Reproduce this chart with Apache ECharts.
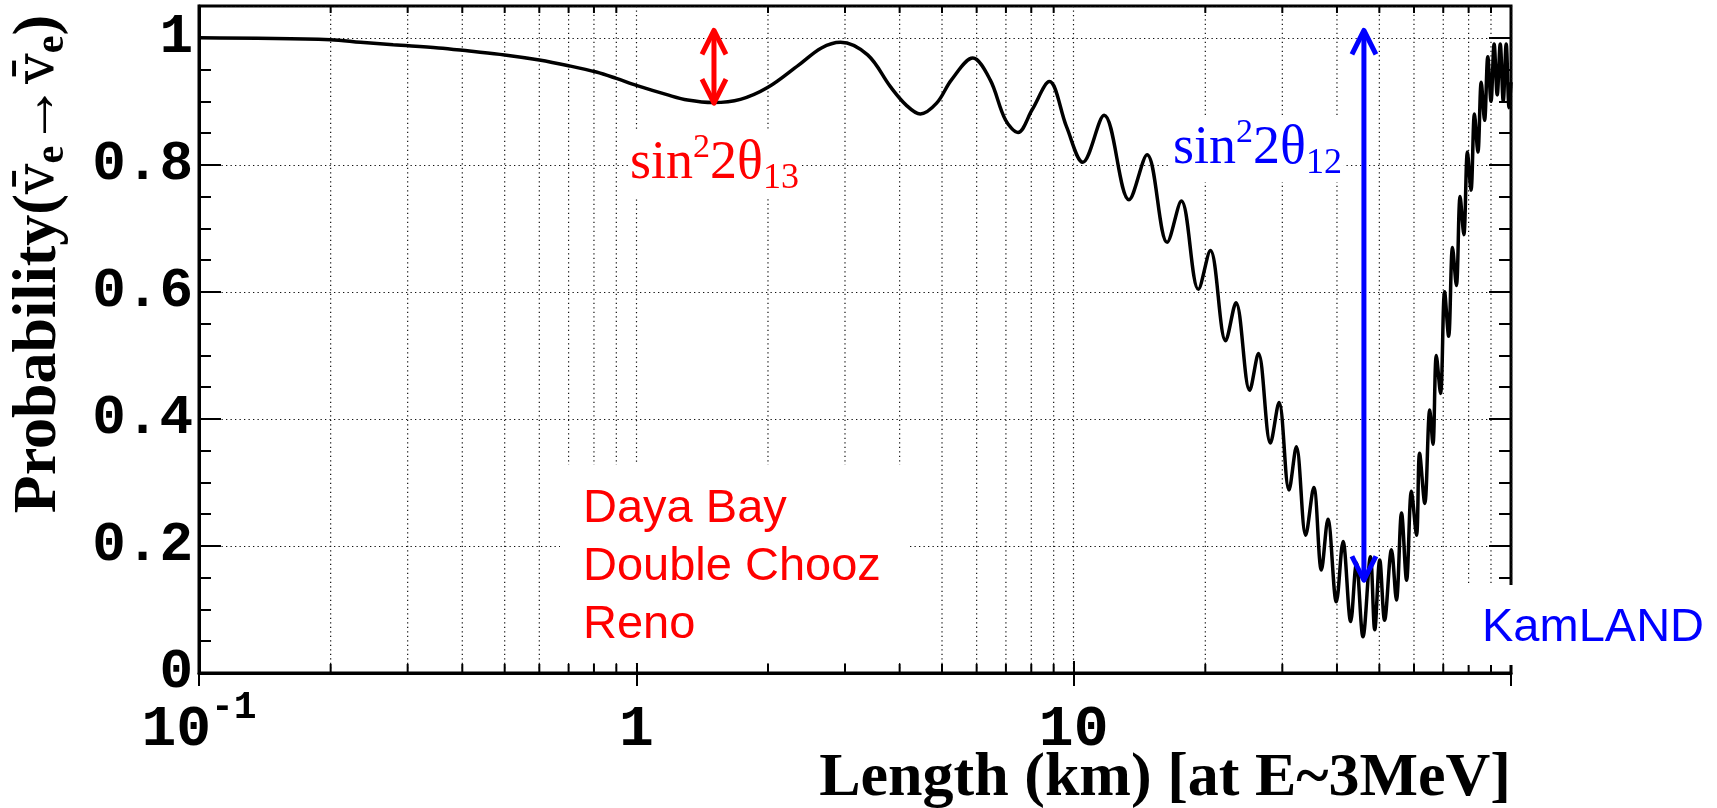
<!DOCTYPE html>
<html>
<head>
<meta charset="utf-8">
<script src="https://cdn.jsdelivr.net/npm/echarts@6/dist/echarts.min.js"></script>
<style>
  html, body { margin: 0; padding: 0; background: #ffffff; }
  #chart { width: 1717px; height: 808px; }
</style>
</head>
<body>
<div id="chart"></div>
<script>
// Reactor baseline L (km), antineutrino energy E ~ 3 MeV
const lengthKm = [
  0.1, 0.2, 0.234, 0.278, 0.353, 0.415, 0.5, 0.6, 0.7, 0.81, 0.9, 1.0,
  1.18, 1.31, 1.5, 1.73, 2.0, 2.35, 2.65, 2.93, 3.38, 3.81, 4.14, 4.46,
  4.86, 5.26, 5.88, 6.44, 6.98, 7.46, 8.04, 8.8, 9.63, 10.49, 11.74, 13.38,
  14.72, 16.36, 17.63, 19.28, 20.54, 22.26, 23.5, 25.26, 26.45, 28.18, 29.48, 31.07,
  32.3, 33.93, 35.4, 36.85, 38.14, 39.87, 41.3, 43.0, 44.3, 45.87, 47.7, 48.8,
  50.1, 51.4, 53.3, 54.7, 56.2, 57.7, 59.2, 60.8, 61.8, 63.5, 65.2, 66.3,
  67.5, 69.0, 70.5, 72.0, 73.5, 75.0, 76.5, 78.0, 79.5, 81.0, 82.5, 84.0,
  85.5, 87.0, 88.5, 90.0, 91.5, 93.0, 94.5, 96.0, 97.5, 99.0, 100
];
// Survival probability P(anti-nu_e -> anti-nu_e) at each baseline
const survivalProb = [
  1.000, 0.997, 0.993, 0.989, 0.984, 0.979, 0.973, 0.965, 0.956, 0.946, 0.936, 0.925,
  0.910, 0.902, 0.898, 0.903, 0.922, 0.957, 0.984, 0.993, 0.973, 0.923, 0.894, 0.880,
  0.897, 0.934, 0.968, 0.934, 0.871, 0.851, 0.887, 0.931, 0.860, 0.804, 0.878, 0.745,
  0.816, 0.678, 0.743, 0.604, 0.665, 0.523, 0.583, 0.445, 0.503, 0.362, 0.426, 0.288,
  0.356, 0.217, 0.292, 0.162, 0.242, 0.112, 0.207, 0.081, 0.173, 0.057, 0.183, 0.068,
  0.178, 0.083, 0.194, 0.115, 0.252, 0.146, 0.286, 0.217, 0.346, 0.267, 0.414, 0.360,
  0.500, 0.440, 0.600, 0.530, 0.670, 0.610, 0.750, 0.690, 0.820, 0.760, 0.880, 0.820,
  0.930, 0.870, 0.970, 0.900, 0.990, 0.910, 0.990, 0.900, 0.990, 0.890, 0.930
];

// Amplitude arrows: baseline, lower end, upper end
const arrowLength = [1.505, 46.1];
const arrowLow = [0.897, 0.146];
const arrowHigh = [1.0115, 1.0115];

// Axis ranges and tick values
const X_MIN = 0.1, X_MAX = 100;
const Y_MIN = 0, Y_MAX = 1.05, Y_STEP = 0.2;
const yTickValues = [0, 0.2, 0.4, 0.6, 0.8, 1];
const decadeStarts = [0.1, 1, 10];
const decadeSteps = [2, 3, 4, 5, 6, 7, 8, 9];
const minorXValues = [];
decadeStarts.forEach(d => decadeSteps.forEach(s => minorXValues.push(+(d * s).toPrecision(4))));

const RED = '#ff0000', BLUE = '#0000ff';
const arrowColors = [RED, BLUE];
const GRID_DOT = { color: '#111111', width: 1.2, type: [1.3, 3.2] };

const chart = echarts.init(document.getElementById('chart'), null, { renderer: 'canvas' });

function xLabel(v) {
  if (Math.abs(v - 0.1) < 1e-9) return '{b|10}{s|-1}';
  if (Math.abs(v - 1) < 1e-9) return '{b|1}';
  if (Math.abs(v - 10) < 1e-9) return '{b|10}';
  return '';
}
function yLabel(v) {
  for (const t of yTickValues) {
    if (Math.abs(v - t) < 1e-6) return t === 0 ? '0' : (t === 1 ? '1' : t.toFixed(1));
  }
  return '';
}

const monoBold = { fontFamily: 'Liberation Mono', fontWeight: 'bold', color: '#000' };

function angleLabel(sub, color) {
  return {
    text: '{a|sin}{p|2}{a|2θ}{q|' + sub + '}', align: 'left', verticalAlign: 'top',
    backgroundColor: '#ffffff', padding: [0, 2, 0, 2],
    rich: {
      a: { fontFamily: 'Liberation Serif', fontSize: 54, lineHeight: 66, fill: color },
      p: { fontFamily: 'Liberation Serif', fontSize: 34, lineHeight: 38, verticalAlign: 'top', fill: color },
      q: { fontFamily: 'Liberation Serif', fontSize: 36, lineHeight: 28, verticalAlign: 'bottom', fill: color }
    }
  };
}

const option = {
  animation: false,
  backgroundColor: '#ffffff',
  grid: {
    left: 199, top: 6, width: 1312, height: 667,
    show: true, borderColor: '#000', borderWidth: 3, backgroundColor: 'transparent',
    containLabel: false, outerBoundsMode: 'none'
  },
  xAxis: [{
    type: 'log', logBase: 10, min: X_MIN, max: X_MAX, position: 'bottom',
    axisLine: { show: true, onZero: false, lineStyle: { color: '#000', width: 3 } },
    axisTick: { show: true, inside: true, length: 12, lineStyle: { color: '#000', width: 2 } },
    minorTick: { show: false },
    splitLine: { show: true, lineStyle: GRID_DOT },
    axisLabel: {
      show: true, margin: 16, formatter: xLabel, hideOverlap: false,
      showMinLabel: true, showMaxLabel: true,
      rich: {
        b: Object.assign({ fontSize: 58, padding: [12, 0, 0, 0] }, monoBold),
        s: Object.assign({ fontSize: 38, verticalAlign: 'top' }, monoBold)
      }
    }
  }, {
    type: 'log', logBase: 10, min: X_MIN, max: X_MAX, position: 'top',
    axisLine: { show: false },
    axisTick: { show: true, inside: true, length: 13, lineStyle: { color: '#000', width: 2 } },
    splitLine: { show: false },
    axisLabel: { show: false }
  }],
  yAxis: [{
    type: 'value', min: Y_MIN, max: Y_MAX, interval: Y_STEP, position: 'left',
    axisLine: { show: true, onZero: false, lineStyle: { color: '#000', width: 3 } },
    axisTick: { show: true, inside: true, length: 22, lineStyle: { color: '#000', width: 2 } },
    minorTick: { show: true, splitNumber: 4, length: 12, lineStyle: { color: '#000', width: 2 } },
    splitLine: { show: true, lineStyle: GRID_DOT },
    axisLabel: Object.assign({ show: true, margin: 6, fontSize: 56, formatter: yLabel }, monoBold)
  }, {
    type: 'value', min: Y_MIN, max: Y_MAX, interval: Y_STEP, position: 'right',
    axisLine: { show: false },
    axisTick: { show: true, inside: true, length: 22, lineStyle: { color: '#000', width: 2 } },
    minorTick: { show: true, splitNumber: 4, length: 12, lineStyle: { color: '#000', width: 2 } },
    splitLine: { show: false },
    axisLabel: { show: false }
  }],
  series: [
    {
      // dotted grid and ticks at 2..9 within every decade
      type: 'custom', xAxisIndex: 0, yAxisIndex: 0, z: 1, silent: true,
      data: minorXValues.map(v => [v]),
      encode: { x: 0 },
      renderItem: function (params, api) {
        const v = api.value(0);
        const b = api.coord([v, Y_MIN]);
        const t = api.coord([v, Y_MAX]);
        return {
          type: 'group', children: [
            { type: 'line', shape: { x1: b[0], y1: b[1], x2: t[0], y2: t[1] },
              style: { stroke: GRID_DOT.color, lineWidth: GRID_DOT.width, lineDash: GRID_DOT.type } },
            { type: 'line', shape: { x1: b[0], y1: b[1], x2: b[0], y2: b[1] - 9 },
              style: { stroke: '#000', lineWidth: 2 } },
            { type: 'line', shape: { x1: t[0], y1: t[1], x2: t[0], y2: t[1] + 7 },
              style: { stroke: '#000', lineWidth: 2 } }
          ]
        };
      }
    },
    {
      name: 'survival', type: 'line', xAxisIndex: 0, yAxisIndex: 0, z: 3,
      data: lengthKm.map((L, i) => [L, survivalProb[i]]),
      showSymbol: false, symbol: 'none', smooth: 0.35,
      lineStyle: { color: '#000', width: 3.5 },
      silent: true
    },
    {
      // double-headed arrows marking the two oscillation amplitudes
      type: 'custom', xAxisIndex: 0, yAxisIndex: 0, z: 20, silent: true,
      data: arrowLength.map((L, i) => [L, arrowLow[i], arrowHigh[i]]),
      encode: { x: 0, y: [1, 2] },
      renderItem: function (params, api) {
        const L = api.value(0);
        const lo = api.coord([L, api.value(1)]);
        const hi = api.coord([L, api.value(2)]);
        const st = { stroke: arrowColors[params.dataIndex], lineWidth: 5, fill: null, lineJoin: 'round', lineCap: 'butt' };
        const hw = 12, hh = 24;
        return {
          type: 'group', children: [
            { type: 'line', shape: { x1: lo[0], y1: lo[1] - 2, x2: hi[0], y2: hi[1] + 2 }, style: st },
            { type: 'polyline', shape: { points: [[hi[0] - hw, hi[1] + hh], [hi[0], hi[1]], [hi[0] + hw, hi[1] + hh]] }, style: st },
            { type: 'polyline', shape: { points: [[lo[0] - hw, lo[1] - hh], [lo[0], lo[1]], [lo[0] + hw, lo[1] - hh]] }, style: st }
          ]
        };
      }
    }
  ],
  graphic: [
    // experiment labels on white boxes
    { type: 'rect', z: 15, silent: true, shape: { x: 560, y: 465, width: 350, height: 198 }, style: { fill: '#ffffff' } },
    { type: 'text', z: 16, silent: true, x: 583, y: 480,
      style: { text: 'Daya Bay\nDouble Chooz\nReno', font: '47px "Liberation Sans"', fill: RED, lineHeight: 58, align: 'left', verticalAlign: 'top' } },
    { type: 'rect', z: 15, silent: true, shape: { x: 1455, y: 585, width: 262, height: 80 }, style: { fill: '#ffffff' } },
    { type: 'text', z: 16, silent: true, x: 1482, y: 599,
      style: { text: 'KamLAND', font: '47px "Liberation Sans"', fill: BLUE, lineHeight: 58, align: 'left', verticalAlign: 'top' } },
    // mixing-angle labels
    { type: 'text', z: 16, silent: true, x: 628, y: 131, style: angleLabel('13', RED) },
    { type: 'text', z: 16, silent: true, x: 1171, y: 116, style: angleLabel('12', BLUE) },
    // axis titles
    { type: 'text', z: 16, silent: true, x: 1511, y: 810,
      style: { text: 'Length (km) [at E~3MeV]', font: 'bold 62px "Liberation Serif"', fill: '#000', align: 'right', verticalAlign: 'bottom' } },
    { type: 'text', z: 16, silent: true, x: 39, y: 264, rotation: Math.PI / 2,
      style: {
        text: '{t|Probability(}{v|v\u0304}{s|e}{t|\u2192}{v|v\u0304}{s|e}{t|)}', align: 'center', verticalAlign: 'middle',
        rich: {
          t: { fontFamily: 'Liberation Serif', fontWeight: 'bold', fontSize: 62, lineHeight: 68, fill: '#000' },
          v: { fontFamily: 'DejaVu Serif', fontWeight: 'normal', fontSize: 54, lineHeight: 68, fill: '#000' },
          s: { fontFamily: 'Liberation Serif', fontWeight: 'bold', fontSize: 40, lineHeight: 40, verticalAlign: 'bottom', fill: '#000' }
        }
      } }
  ]
};

chart.setOption(option);
</script>
</body>
</html>
